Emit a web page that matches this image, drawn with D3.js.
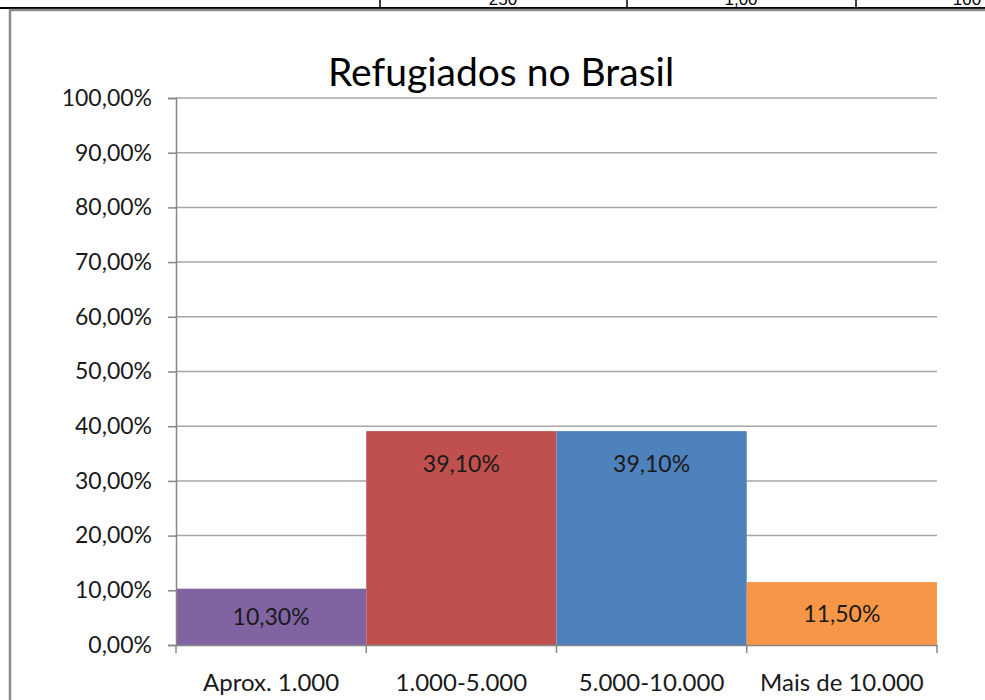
<!DOCTYPE html>
<html>
<head>
<meta charset="utf-8">
<script src="https://cdn.jsdelivr.net/npm/d3@7"></script>
<style>
  body { margin: 0; background: #fff; }
  svg { display: block; }
  text { font-family: Lato, "Open Sans", sans-serif; }
</style>
</head>
<body>
<div id="chart"></div>
<script>
const categories = ["Aprox. 1.000", "1.000-5.000", "5.000-10.000", "Mais de 10.000"];
const values = [10.3, 39.1, 39.1, 11.5];
const barColors = ["#8064A2", "#C0504D", "#4F81BD", "#F79646"];
const yTicks = [0, 10, 20, 30, 40, 50, 60, 70, 80, 90, 100];
const tableCells = ["250", "1,00", "100"];
const tableCellCenters = [503, 741, 967];
const tableDividers = [380, 627, 856];

const W = 985, H = 700;
const plot = { left: 176, right: 937, top: 98, bottom: 645 };

const fmt = (v) => d3.format(".2f")(v).replace(".", ",") + "%";

const svg = d3.select("#chart").append("svg").attr("width", W).attr("height", H);

// piece of the table above the chart (cropped in the source image)
svg.append("line")
  .attr("x1", 0).attr("x2", W).attr("y1", 8).attr("y2", 8)
  .attr("stroke", "#000").attr("stroke-width", 2);
svg.selectAll(".tdiv").data(tableDividers).enter().append("line")
  .attr("x1", (d) => d).attr("x2", (d) => d).attr("y1", 0).attr("y2", 8)
  .attr("stroke", "#000").attr("stroke-width", 1.5);
svg.selectAll(".tcell").data(tableCells).enter().append("text")
  .attr("x", (d, i) => tableCellCenters[i]).attr("y", 5)
  .attr("text-anchor", "middle")
  .style("font-family", "'Liberation Sans', Arial, sans-serif")
  .style("font-size", "17px").attr("fill", "#000")
  .text((d) => d);

// chart frame
svg.append("rect")
  .attr("x", 10).attr("y", 10).attr("width", W + 20).attr("height", H + 20)
  .attr("fill", "none").attr("stroke", "#8c8c8c").attr("stroke-width", 2.5);

const x = d3.scaleBand().domain(categories).range([plot.left, plot.right]).padding(0);
const y = d3.scaleLinear().domain([0, 100]).range([plot.bottom, plot.top]);

// gridlines
svg.append("g")
  .selectAll("line").data(yTicks.filter((t) => t > 0)).enter().append("line")
  .attr("x1", plot.left).attr("x2", plot.right)
  .attr("y1", (d) => y(d)).attr("y2", (d) => y(d))
  .attr("stroke", "#a6a6a6").attr("stroke-width", 1.5);

// bars
svg.selectAll(".bar").data(values).enter().append("rect")
  .attr("class", "bar")
  .attr("x", (d, i) => x(categories[i]))
  .attr("width", x.bandwidth())
  .attr("y", (d) => y(d))
  .attr("height", (d) => y(0) - y(d))
  .attr("fill", (d, i) => barColors[i]);

// data labels (inside end)
svg.selectAll(".lbl").data(values).enter().append("text")
  .attr("x", (d, i) => x(categories[i]) + x.bandwidth() / 2)
  .attr("y", (d) => Math.min(y(d) + 33, (y(d) + y(0)) / 2))
  .attr("dy", "0.35em")
  .attr("text-anchor", "middle")
  .style("font-size", "23px").attr("fill", "#1a1a1a")
  .text((d) => fmt(d));

// y axis
const yAxis = svg.append("g")
  .attr("transform", `translate(${plot.left},0)`)
  .call(d3.axisLeft(y).tickValues(yTicks).tickSize(8).tickPadding(16).tickFormat(fmt));
yAxis.select(".domain").attr("stroke", "#868686").attr("stroke-width", 1.5);
yAxis.selectAll(".tick line").attr("stroke", "#868686").attr("stroke-width", 1.5);
yAxis.selectAll(".tick text")
  .style("font-size", "23px").style("font-family", "Lato, sans-serif").attr("fill", "#1a1a1a");

// x axis
const xAxis = svg.append("g")
  .attr("transform", `translate(0,${plot.bottom})`)
  .call(d3.axisBottom(x).tickSize(0).tickPadding(29));
xAxis.select(".domain").attr("stroke", "#868686").attr("stroke-width", 1.5);
xAxis.selectAll(".tick text")
  .style("font-size", "24px").style("font-family", "Lato, sans-serif").attr("fill", "#1a1a1a");
const edges = categories.map((c) => x(c)).concat([plot.right]);
svg.append("g").selectAll("line").data(edges).enter().append("line")
  .attr("x1", (d) => d).attr("x2", (d) => d)
  .attr("y1", plot.bottom).attr("y2", plot.bottom + 8)
  .attr("stroke", "#868686").attr("stroke-width", 1.5);

// title
svg.append("text")
  .attr("x", 501).attr("y", 86)
  .attr("text-anchor", "middle")
  .style("font-size", "39px").attr("fill", "#000")
  .text("Refugiados no Brasil");
</script>
</body>
</html>
